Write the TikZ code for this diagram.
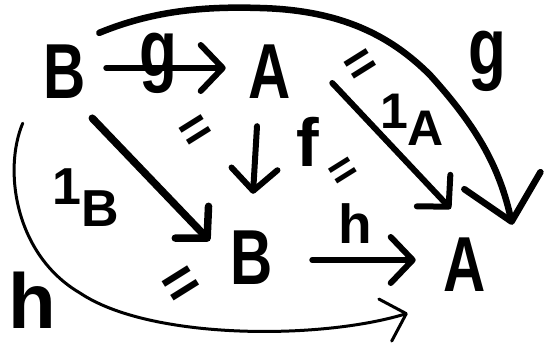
\documentclass[tikz,border=0pt]{standalone}
\usepackage{fontspec}
\setmainfont{Liberation Sans}
\usetikzlibrary{arrows.meta}
\begin{document}
\begin{tikzpicture}[x=1pt,y=1pt,line cap=round,line join=round,
  obj/.style={font=\fontsize{78}{78}\selectfont\bfseries, inner sep=0pt, xscale=0.75, minimum width=50pt, minimum height=56pt},
  lab/.style={inner sep=0pt},
  eqmark/.style={font=\fontsize{52}{52}\selectfont\bfseries, inner sep=0pt, rotate=32},
  arr/.style={line width=6pt, -{Straight Barb[length=22pt,width=46pt,round]}},
  bigarr/.style={line width=6.5pt, -{Straight Barb[length=42pt,width=78pt,round]}},
  thinarr/.style={line width=3pt, -{Straight Barb[length=22pt,width=44pt,round]}}]
\useasboundingbox (0,0) rectangle (557,-351);
\node[obj] (B1) at (65,-72) {B};
\node[obj] (A1) at (270,-72) {A};
\node[obj] (B2) at (252,-258) {B};
\node[obj] (A2) at (465,-265) {A};
% straight arrows
\draw[arr] ([shift={(20,4)}]B1.east) -- ([shift={(-23,4)}]A1.west);
\draw[arr, line width=7.5pt] ([shift={(6,-18)}]B1.south east) -- ([shift={(-21,-11)}]B2.north west);
\draw[arr] ([shift={(-13,-26)}]A1.south) -- ([shift={(1,36)}]B2.north);
\draw[arr] ([shift={(41,-11)}]A1.east) -- ([shift={(7,28)}]A2.north west);
\draw[arr] ([shift={(39,-2)}]B2.east) -- ([shift={(-28,5)}]A2.west);
% curved arrows
\draw[bigarr] ([shift={(13,11)}]B1.north east) .. controls (150,-12) and (200,-6) .. (260,-8)
   .. controls (340,-10) and (390,-35) .. (430,-75)
   .. controls (480,-130) and (500,-170) .. ([shift={(26,12)}]A2.north east);
\draw[thinarr] ([shift={(-21,-23)}]B1.south west) .. controls (3,-170) and (15,-255) .. (80,-293)
   .. controls (150,-340) and (320,-340) .. ([shift={(-36,-20)}]A2.south west);
% labels
\node[lab, anchor=base, yscale=1.3, font=\fontsize{62}{62}\selectfont\bfseries] (lg1) at (158,-76) {g};
\node[lab, anchor=base, yscale=1.3, font=\fontsize{62}{62}\selectfont\bfseries] (lg2) at (487,-74) {g};
\node[lab, anchor=base, font=\fontsize{68}{68}\selectfont\bfseries] (lf) at (308,-166) {f};
\node[lab, anchor=base, font=\fontsize{55}{55}\selectfont\bfseries] (lh1) at (355,-243) {h};
\node[lab, anchor=base, font=\fontsize{78}{78}\selectfont\bfseries] (lh2) at (32,-328) {h};
\node[lab, font=\fontsize{52}{52}\selectfont\bfseries] (l1B) at (86,-198) {1\raisebox{-22pt}{B}};
\node[lab, font=\fontsize{50}{50}\selectfont\bfseries] (l1A) at (412,-120) {1\raisebox{-17pt}{A}};
% equality marks
\node[eqmark] (e1) at (362,-67) {=};
\node[eqmark] (e2) at (197,-133) {=};
\node[eqmark, font=\fontsize{46}{46}\selectfont\bfseries] (e3) at (345,-173) {=};
\node[eqmark, font=\fontsize{60}{60}\selectfont\bfseries] (e4) at (183,-287) {=};
\end{tikzpicture}
\end{document}
